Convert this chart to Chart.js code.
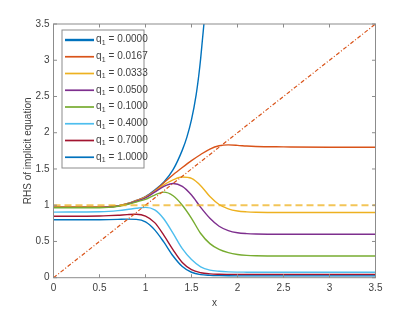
<!DOCTYPE html>
<html>
<head>
<meta charset="utf-8">
<script src="https://cdn.jsdelivr.net/npm/chart.js@4.4.1/dist/chart.umd.min.js"></script>
<style>
  html, body { margin: 0; padding: 0; background: #fff; }
  #wrap { width: 415px; height: 312px; }
</style>
</head>
<body>
<div id="wrap"><canvas id="rhs-chart"></canvas></div>
<script>
// values
const qLabels = ["q₁ = 0.0000", "q₁ = 0.0167", "q₁ = 0.0333", "q₁ = 0.0500",
	"q₁ = 0.1000", "q₁ = 0.4000", "q₁ = 0.7000", "q₁ = 1.0000"];
const qColors = ["#0072BD", "#D95319", "#EDB120", "#7E2F8E",
	"#77AC30", "#4DBEEE", "#A2142F", "#0072BD"];

const xTicks = [0, 0.5, 1, 1.5, 2, 2.5, 3, 3.5];
const yTicks = [0, 0.5, 1, 1.5, 2, 2.5, 3, 3.5];

// q1 = 0 blows up, so it has its own x samples
const xQ0 = [0, 0.5, 0.6, 0.7, 0.8, 0.9, 1.0, 1.1, 1.2, 1.3, 1.4, 1.45, 1.5, 1.55, 1.58, 1.6, 1.62, 1.635];
const yQ0 = [0.975, 0.975, 0.98, 0.99, 1.02, 1.065, 1.12, 1.21, 1.32, 1.49, 1.76, 1.94, 2.18, 2.52, 2.80, 3.03, 3.30, 3.5];

const xGrid = [0, 0.5, 0.6, 0.7, 0.8, 0.9, 1.0, 1.1, 1.2, 1.3, 1.4, 1.5, 1.6, 1.7, 1.8, 1.9, 2.0, 2.1, 2.2, 2.5, 3.0, 3.5];
const yQ0167 = [0.975, 0.975, 0.98, 0.99, 1.02, 1.065, 1.115, 1.2, 1.31, 1.42, 1.52, 1.615, 1.7, 1.775, 1.82, 1.832, 1.826, 1.816, 1.81, 1.805, 1.80, 1.80];
const yQ0333 = [0.975, 0.975, 0.98, 0.99, 1.02, 1.06, 1.11, 1.19, 1.28, 1.35, 1.39, 1.37, 1.27, 1.12, 1.01, 0.95, 0.92, 0.908, 0.903, 0.90, 0.90, 0.90];
const yQ0500 = [0.97, 0.97, 0.975, 0.99, 1.015, 1.055, 1.10, 1.18, 1.26, 1.30, 1.26, 1.14, 0.97, 0.82, 0.71, 0.65, 0.62, 0.608, 0.603, 0.60, 0.60, 0.60];
const yQ1000 = [0.965, 0.965, 0.97, 0.985, 1.01, 1.045, 1.08, 1.14, 1.18, 1.13, 1.00, 0.82, 0.61, 0.47, 0.39, 0.345, 0.32, 0.308, 0.303, 0.30, 0.30, 0.30];
const yQ4000 = [0.905, 0.91, 0.915, 0.925, 0.94, 0.958, 0.97, 0.935, 0.81, 0.61, 0.40, 0.25, 0.15, 0.105, 0.088, 0.08, 0.077, 0.076, 0.075, 0.075, 0.075, 0.075];
const yQ7000 = [0.848, 0.852, 0.856, 0.862, 0.87, 0.875, 0.85, 0.76, 0.585, 0.385, 0.21, 0.11, 0.068, 0.053, 0.048, 0.046, 0.045, 0.045, 0.045, 0.045, 0.045, 0.045];
const yQ10000 = [0.80, 0.80, 0.801, 0.804, 0.808, 0.805, 0.77, 0.66, 0.49, 0.30, 0.155, 0.075, 0.042, 0.032, 0.028, 0.026, 0.025, 0.025, 0.025, 0.025, 0.025, 0.025];

// reference lines: y = x and y = 1
const xRef = [0, 3.5];
const yDiag = [0, 3.5];
const yOne = [1, 1];

const toPoints = (xs, ys) => xs.map((x, i) => ({ x: x, y: ys[i] }));

const qSeries = [
	toPoints(xQ0, yQ0),
	toPoints(xGrid, yQ0167),
	toPoints(xGrid, yQ0333),
	toPoints(xGrid, yQ0500),
	toPoints(xGrid, yQ1000),
	toPoints(xGrid, yQ4000),
	toPoints(xGrid, yQ7000),
	toPoints(xGrid, yQ10000)
];

const datasets = qSeries.map((pts, i) => ({
	label: qLabels[i],
	data: pts,
	borderColor: qColors[i],
	borderWidth: 1.4,
	legendWidth: i === 0 ? 2.4 : 1.7,
	pointRadius: 0,
	fill: false,
	cubicInterpolationMode: "monotone",
	order: 20 - i,
	inLegend: true
}));

datasets.push({
	label: "y = x",
	data: toPoints(xRef, yDiag),
	borderColor: "#D95319",
	borderWidth: 1.2,
	borderDash: [4, 2, 1, 2],
	pointRadius: 0,
	order: 2
});
datasets.push({
	label: "y = 1",
	data: toPoints(xRef, yOne),
	borderColor: "rgba(237,177,32,0.75)",
	borderWidth: 2,
	borderDash: [7, 4],
	pointRadius: 0,
	order: 1
});

const textColor = "#404040";
const boxColor = "#8c8c8c";
const fontFamily = "'Liberation Sans', Arial, Helvetica, sans-serif";

// MATLAB style box with inward ticks on all four sides
const boxPlugin = {
	id: "axesBox",
	afterDatasetsDraw(chart) {
		const { ctx, chartArea: a, scales } = chart;
		const len = 3.5;
		ctx.save();
		ctx.strokeStyle = boxColor;
		ctx.lineWidth = 1;
		ctx.strokeRect(a.left, a.top, a.right - a.left, a.bottom - a.top);
		ctx.beginPath();
		xTicks.forEach(v => {
			const px = scales.x.getPixelForValue(v);
			ctx.moveTo(px, a.bottom); ctx.lineTo(px, a.bottom - len);
			ctx.moveTo(px, a.top); ctx.lineTo(px, a.top + len);
		});
		yTicks.forEach(v => {
			const py = scales.y.getPixelForValue(v);
			ctx.moveTo(a.left, py); ctx.lineTo(a.left + len, py);
			ctx.moveTo(a.right, py); ctx.lineTo(a.right - len, py);
		});
		ctx.stroke();
		ctx.restore();
	}
};

// boxed legend in the upper left of the axes, "q" with a lowered "1"
const legendPlugin = {
	id: "boxLegend",
	afterDraw(chart) {
		const { ctx, chartArea: a } = chart;
		const left = a.left + 8.5, top = a.top + 6;
		const w = 82, h = 138, step = 16.75;
		ctx.save();
		ctx.fillStyle = "#fff";
		ctx.fillRect(left, top, w, h);
		ctx.strokeStyle = boxColor;
		ctx.lineWidth = 1;
		ctx.strokeRect(left, top, w, h);
		ctx.textBaseline = "middle";
		ctx.fillStyle = textColor;
		let row = 0;
		chart.data.datasets.forEach(ds => {
			if (!ds.inLegend) return;
			const cy = top + 10 + row * step;
			ctx.strokeStyle = ds.borderColor;
			ctx.lineWidth = ds.legendWidth;
			ctx.beginPath();
			ctx.moveTo(left + 3, cy);
			ctx.lineTo(left + 32, cy);
			ctx.stroke();
			const parts = ds.label.split("₁");
			let tx = left + 34;
			ctx.font = "10px " + fontFamily;
			ctx.fillText(parts[0], tx, cy - 0.5);
			tx += ctx.measureText(parts[0]).width + 0.3;
			ctx.font = "7px " + fontFamily;
			ctx.fillText("1", tx, cy + 3);
			tx += ctx.measureText("1").width;
			ctx.font = "10px " + fontFamily;
			ctx.fillText(parts[1], tx, cy - 0.5);
			row++;
		});
		ctx.restore();
	}
};

const tickFont = { family: fontFamily, size: 10 };

const ctx = document.getElementById("rhs-chart").getContext("2d");
const chart = new Chart(ctx, {
	type: "line",
	data: { datasets: datasets },
	options: {
		responsive: true,
		maintainAspectRatio: false,
		animation: false,
		layout: { padding: { left: 0, right: 39.5, top: 24, bottom: 0 } },
		plugins: {
			legend: { display: false },
			tooltip: { enabled: false }
		},
		scales: {
			x: {
				type: "linear",
				min: 0,
				max: 3.5,
				afterBuildTicks: s => { s.ticks = xTicks.map(v => ({ value: v })); },
				afterFit: s => { s.height = 34.3; },
				grid: { display: false, drawTicks: false },
				border: { display: false },
				ticks: { color: textColor, font: tickFont, padding: 5, maxRotation: 0, callback: v => String(v) },
				title: { display: true, text: "x", color: textColor, font: tickFont, padding: { top: 0, bottom: 3 } }
			},
			y: {
				type: "linear",
				min: 0,
				max: 3.5,
				afterBuildTicks: s => { s.ticks = yTicks.map(v => ({ value: v })); },
				afterFit: s => { s.width = 53.5; },
				grid: { display: false, drawTicks: false },
				border: { display: false },
				ticks: { color: textColor, font: tickFont, padding: 4, callback: v => String(v) },
				title: { display: true, text: "RHS of implicit equation", color: textColor, font: tickFont, padding: { top: 22, bottom: 0 } }
			}
		}
	},
	plugins: [boxPlugin, legendPlugin]
});
</script>
</body>
</html>
